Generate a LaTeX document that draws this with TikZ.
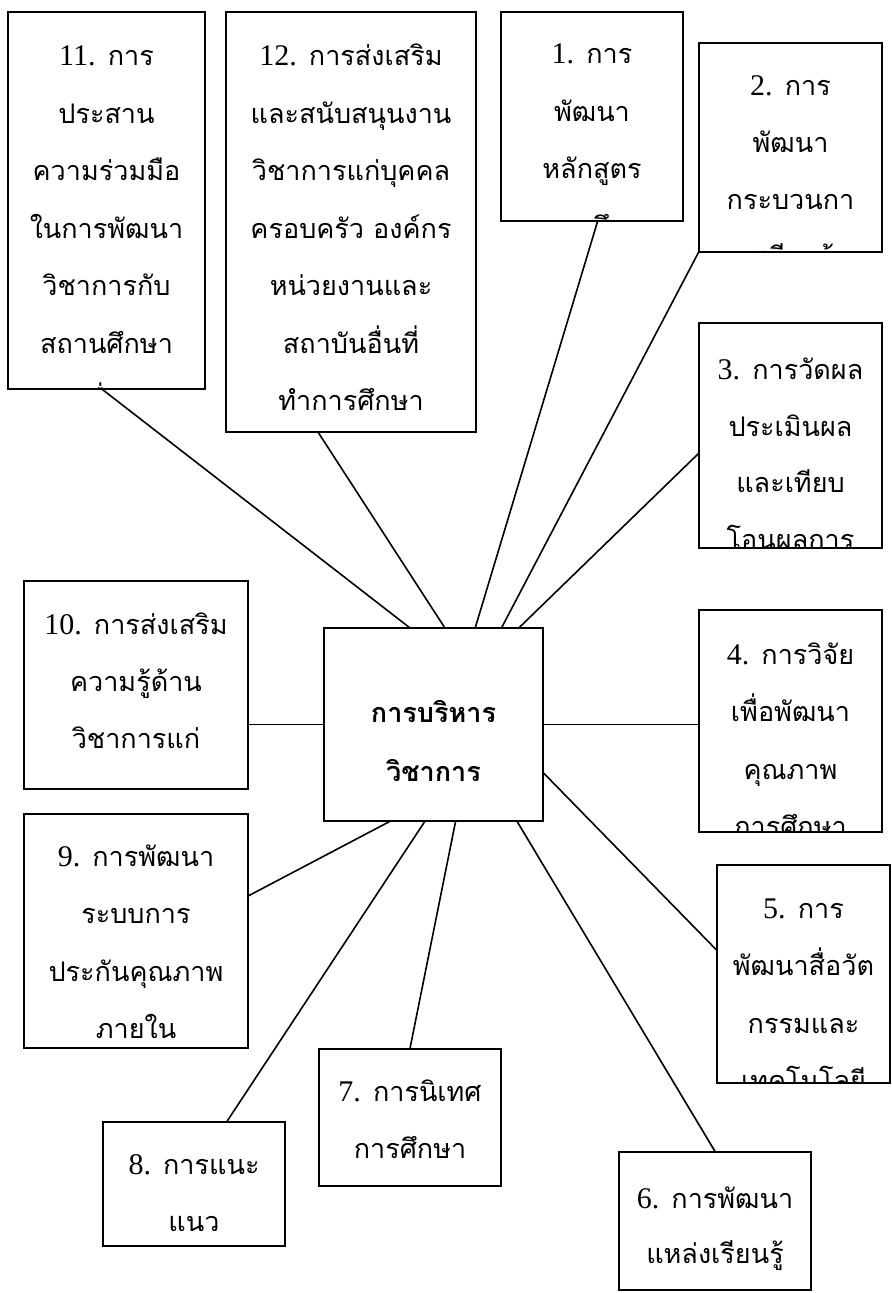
\documentclass[tikz,border=0pt]{standalone}
\usepackage{fontspec}
\newfontfamily\thaifont[Script=Thai]{Loma}
\newfontfamily\latinfont{Liberation Serif}
\usepackage{tikz}
\usetikzlibrary{calc}

\newcommand{\tasknum}[1]{{\latinfont\fontsize{15pt}{15pt}\selectfont #1.}}

\tikzset{
  topic/.style n args={3}{draw, line width=0.6pt, inner sep=0pt,
    path picture={\node[anchor=base, inner sep=0pt,
        font=\thaifont\fontsize{13.5pt}{#2}\selectfont]
      at ([yshift=-#1]path picture bounding box.north)
      {\begin{minipage}[t]{8cm}\centering #3\end{minipage}};}},
  link/.style={line width=0.8pt},
}

\begin{document}
\begin{tikzpicture}[x=0.5pt, y=-0.5pt]
    \useasboundingbox (0,0) rectangle (891,1293);

    % centre box
    \node[topic={47pt}{29.5pt}{\bfseries การบริหาร\\วิชาการ},
          minimum width=109.5pt, minimum height=96.5pt] (main) at (433.5,724.5) {};

    % the twelve tasks
    \node[topic={26pt}{28.75pt}{\tasknum{1} การ\\พัฒนา\\หลักสูตร\\สถานศึกษา},
          minimum width=91pt, minimum height=104.5pt] (b1) at (592,116.5) {};
    \node[topic={26.5pt}{28.5pt}{\tasknum{2} การ\\พัฒนา\\กระบวนกา\\รเรียนรู้},
          minimum width=91.5pt, minimum height=104.5pt] (b2) at (790.5,147.5) {};
    \node[topic={28.5pt}{28.25pt}{\tasknum{3} การวัดผล\\ประเมินผล\\และเทียบ\\โอนผลการ\\เรียน},
          minimum width=91.5pt, minimum height=112.5pt] (b3) at (790.5,435.5) {};
    \node[topic={27pt}{28.75pt}{\tasknum{4} การวิจัย\\เพื่อพัฒนา\\คุณภาพ\\การศึกษา},
          minimum width=91.5pt, minimum height=111pt] (b4) at (790.5,721) {};
    \node[topic={26.5pt}{28.75pt}{\tasknum{5} การ\\พัฒนาสื่อวัต\\กรรมและ\\เทคโนโลยี},
          minimum width=86.5pt, minimum height=109pt] (b5) at (803.5,974) {};
    \node[topic={28pt}{27.5pt}{\tasknum{6} การพัฒนา\\แหล่งเรียนรู้},
          minimum width=96pt, minimum height=69pt] (b6) at (715,1221) {};
    \node[topic={26pt}{28.5pt}{\tasknum{7} การนิเทศ\\การศึกษา},
          minimum width=91pt, minimum height=68.5pt] (b7) at (410,1117.5) {};
    \node[topic={26pt}{28.5pt}{\tasknum{8} การแนะ\\แนว},
          minimum width=91pt, minimum height=62pt] (b8) at (194,1184) {};
    \node[topic={26pt}{28.75pt}{\tasknum{9} การพัฒนา\\ระบบการ\\ประกันคุณภาพ\\ภายใน},
          minimum width=112pt, minimum height=117pt] (b9) at (136,931) {};
    \node[topic={26.5pt}{28.5pt}{\tasknum{10} การส่งเสริม\\ความรู้ด้าน\\วิชาการแก่},
          minimum width=112pt, minimum height=104pt] (b10) at (136,685) {};
    \node[topic={27pt}{28.75pt}{\tasknum{11} การ\\ประสาน\\ความร่วมมือ\\ในการพัฒนา\\วิชาการกับ\\สถานศึกษา\\อื่น},
          minimum width=98.5pt, minimum height=188.5pt] (b11) at (106.5,200.5) {};
    \node[topic={27pt}{28.75pt}{\tasknum{12} การส่งเสริม\\และสนับสนุนงาน\\วิชาการแก่บุคคล\\ครอบครัว องค์กร\\หน่วยงานและ\\สถาบันอื่นที่\\ทำการศึกษา},
          minimum width=125pt, minimum height=210pt] (b12) at (351,222) {};

    % spokes
    \draw[link] ($(main.north west)!.39!(main.north east)$) -- ($(b11.south west)!.48!(b11.south east)$);
    \draw[link] ($(main.north west)!.55!(main.north east)$) -- ($(b12.south west)!.37!(b12.south east)$);
    \draw[link] ($(main.north west)!.69!(main.north east)$) -- ($(b1.south west)!.53!(b1.south east)$);
    \draw[link] ($(main.north west)!.81!(main.north east)$) -- (b2.south west);
    \draw[link] ($(main.north west)!.89!(main.north east)$) -- ($(b3.north west)!.58!(b3.south west)$);
    \draw[link] (main.east) -- (main.east -| b4.west);
    \draw[link] ($(main.north east)!.75!(main.south east)$) -- ($(b5.north west)!.39!(b5.south west)$);
    \draw[link] ($(main.south west)!.88!(main.south east)$) -- (b6.north);
    \draw[link] ($(main.south west)!.60!(main.south east)$) -- (b7.north);
    \draw[link] ($(main.south west)!.46!(main.south east)$) -- ($(b8.north west)!.68!(b8.north east)$);
    \draw[link] ($(main.south west)!.30!(main.south east)$) -- ($(b9.north east)!.35!(b9.south east)$);
    \draw[link] (main.west) -- (main.west -| b10.east);
\end{tikzpicture}
\end{document}
